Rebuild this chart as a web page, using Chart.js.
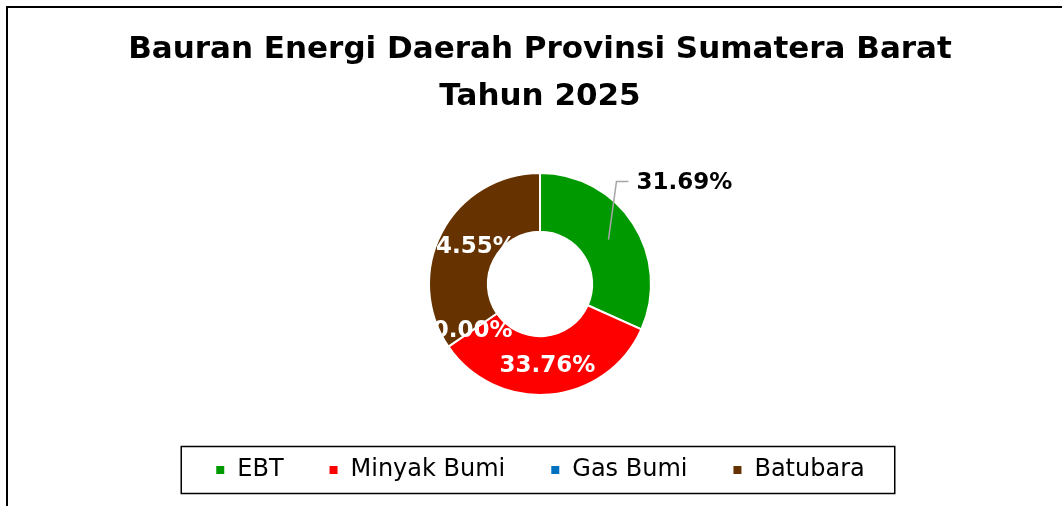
<!DOCTYPE html>
<html>
<head>
<meta charset="utf-8">
<script src="https://cdn.jsdelivr.net/npm/chart.js@4"></script>
<style>
    html, body { margin: 0; padding: 0; background: #fff; overflow: hidden; }
    #wrap { position: relative; width: 1062px; height: 506px; }
</style>
</head>
<body>
<div id="wrap"><canvas id="chart"></canvas></div>
<script>
const titleLines = ['Bauran Energi Daerah Provinsi Sumatera Barat', 'Tahun 2025'];
const categories = ['EBT', 'Minyak Bumi', 'Gas Bumi', 'Batubara'];
const shares = [31.69, 33.76, 0.00, 34.55];
const sliceColors = ['#009900', '#ff0000', '#0070c0', '#663300'];

const FONT = '"DejaVu Sans", sans-serif';

// cadre du graphique (bord gauche + haut, le reste est coupé)
const framePlugin = {
    id: 'frame',
    beforeDraw(chart) {
        const ctx = chart.ctx;
        ctx.save();
        ctx.strokeStyle = '#000';
        ctx.lineWidth = 2;
        ctx.beginPath();
        ctx.moveTo(7, chart.height + 2);
        ctx.lineTo(7, 7);
        ctx.lineTo(chart.width + 2, 7);
        ctx.stroke();
        ctx.restore();
    },
};

// étiquettes de valeurs façon Excel
const sliceLabels = {
    id: 'sliceLabels',
    afterDatasetsDraw(chart) {
        const ctx = chart.ctx;
        const meta = chart.getDatasetMeta(0);
        ctx.save();
        ctx.font = 'bold 23px ' + FONT;
        ctx.textBaseline = 'middle';
        meta.data.forEach((arc, i) => {
            const { x, y, startAngle, endAngle, innerRadius, outerRadius } = arc.getProps(['x', 'y', 'startAngle', 'endAngle', 'innerRadius', 'outerRadius'], true);
            const mid = (startAngle + endAngle) / 2;
            const r = (innerRadius + outerRadius) / 2;
            const px = x + Math.cos(mid) * r;
            const py = y + Math.sin(mid) * r;
            const text = shares[i].toFixed(2) + '%';
            if (i === 0) {
                // étiquette sortie avec ligne de rappel
                ctx.strokeStyle = '#a6a6a6';
                ctx.lineWidth = 1.5;
                ctx.beginPath();
                ctx.moveTo(px, py);
                ctx.lineTo(px + 8, py - 58);
                ctx.lineTo(px + 20, py - 58);
                ctx.stroke();
                ctx.fillStyle = '#000';
                ctx.textAlign = 'left';
                ctx.fillText(text, px + 28, py - 57);
            } else {
                ctx.fillStyle = '#fff';
                ctx.textAlign = 'center';
                ctx.fillText(text, px, py + 1);
            }
        });
        ctx.restore();
    },
};

// encadré autour de la légende
const legendBox = {
    id: 'legendBox',
    afterDraw(chart) {
        const boxes = chart.legend.legendHitBoxes;
        if (!boxes || !boxes.length) return;
        const first = boxes[0];
        const last = boxes[boxes.length - 1];
        const cy = first.top + first.height / 2;
        const ctx = chart.ctx;
        ctx.save();
        ctx.strokeStyle = '#000';
        ctx.lineWidth = 1.5;
        ctx.strokeRect(first.left - 34, cy - 23.5, (last.left + last.width) - first.left + 64, 47);
        ctx.restore();
    },
};

new Chart(document.getElementById('chart'), {
    type: 'doughnut',
    data: {
        labels: categories,
        datasets: [{
            data: shares,
            backgroundColor: sliceColors,
            borderColor: '#fff',
            borderWidth: 2,
            hoverOffset: 0,
        }],
    },
    options: {
        responsive: true,
        maintainAspectRatio: false,
        animation: false,
        radius: 111,
        cutout: '47%',
        layout: { padding: { left: 18, right: 0, top: 0, bottom: 14 } },
        plugins: {
            title: {
                display: true,
                text: titleLines,
                color: '#000',
                font: { family: FONT, size: 31, weight: 'bold', lineHeight: 1.516 },
                padding: { top: 26.5, bottom: 34.5 },
            },
            legend: {
                position: 'bottom',
                labels: {
                    color: '#000',
                    font: { family: FONT, size: 24 },
                    boxWidth: 10,
                    boxHeight: 10,
                    padding: 45,
                },
            },
            tooltip: { enabled: false },
        },
    },
    plugins: [framePlugin, sliceLabels, legendBox],
});
</script>
</body>
</html>
